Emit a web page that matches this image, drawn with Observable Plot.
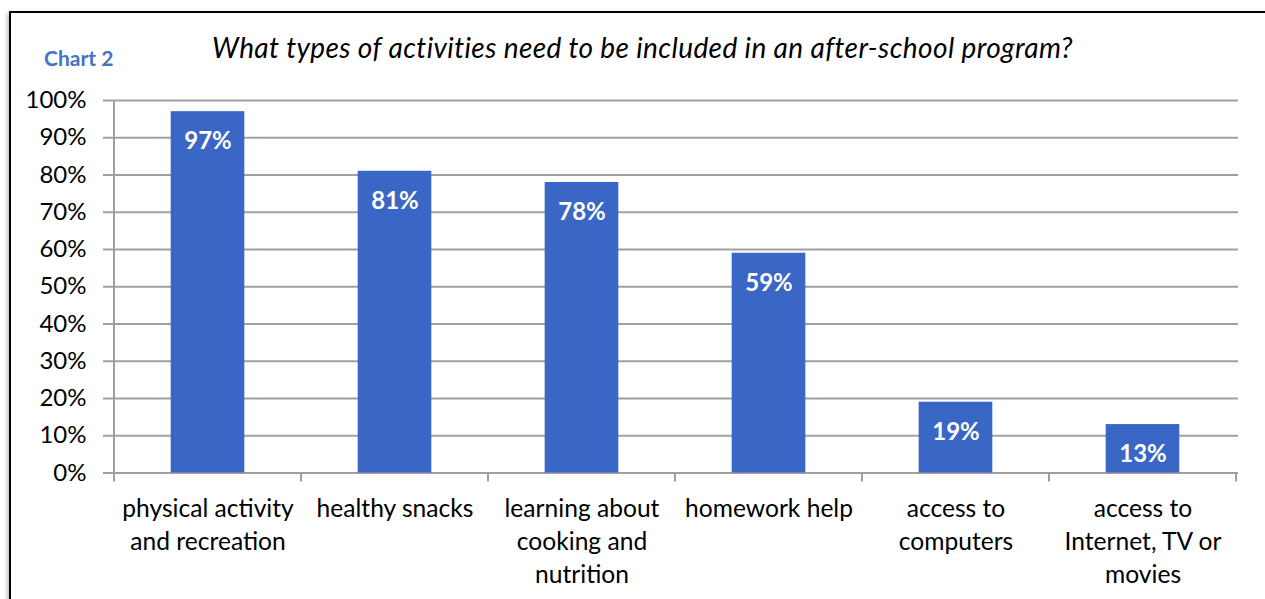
<!DOCTYPE html>
<html>
<head>
<meta charset="utf-8">
<script src="https://cdn.jsdelivr.net/npm/d3@7"></script>
<script src="https://cdn.jsdelivr.net/npm/@observablehq/plot@0.6"></script>
<style>
  html, body { margin: 0; padding: 0; background: #fff; }
  #page { position: relative; width: 1265px; height: 599px; overflow: hidden; font-family: Lato, "Open Sans", sans-serif; }
  #frame { position: absolute; left: 9px; top: 11px; width: 1400px; height: 800px; border-left: 2px solid #000; border-top: 2px solid #000; box-shadow: -2px 2px 4px rgba(0,0,0,0.25); }
  #header { position: absolute; left: 0; top: 0; width: 1265px; height: 60px; z-index: 2; }
  #tag { position: absolute; left: 44px; top: 47px; font-size: 21px; line-height: 21px; font-weight: bold; color: #4472c4; white-space: nowrap; }
  #title { position: absolute; left: 212px; top: 33px; font-size: 28px; line-height: 28px; letter-spacing: 0.4px; font-style: italic; color: #000; white-space: nowrap; }
  #chart { position: absolute; left: 0; top: 60px; z-index: 1; }
</style>
</head>
<body>
<div id="page">
  <div id="frame"></div>
  <div id="header">
    <div id="tag">Chart 2</div>
    <div id="title">What types of activities need to be included in an after-school program?</div>
  </div>
  <div id="chart"></div>
</div>
<script>
const categories = [
  "physical activity and recreation",
  "healthy snacks",
  "learning about cooking and nutrition",
  "homework help",
  "access to computers",
  "access to Internet, TV or movies"
];
const tickLabels = [
  "physical activity\nand recreation",
  "healthy snacks",
  "learning about\ncooking and\nnutrition",
  "homework help",
  "access to\ncomputers",
  "access to\nInternet, TV or\nmovies"
];
const values = [97, 81, 78, 59, 19, 13];
const yTicks = [0, 10, 20, 30, 40, 50, 60, 70, 80, 90, 100];

const data = categories.map((c, i) => ({category: c, value: values[i]}));

const W = 1265, H = 539;
const mL = 112, mR = 27, mT = 40, mB = 126.5;
const step = (W - mL - mR) / categories.length;
const barW = 74.3;
const inset = (step - barW) / 2;
const grid = "#a0a0a0";

function boundaryTicks(index, scales, values, dims) {
  const x = scales.x, y = scales.y;
  const bw = x.bandwidth();
  const xs = categories.map(c => x(c)).concat([x(categories[categories.length - 1]) + bw]);
  const y0 = y(0);
  const g = d3.create("svg:g");
  g.selectAll("line.t").data(xs).join("line")
    .attr("x1", d => d).attr("x2", d => d)
    .attr("y1", y0).attr("y2", y0 + 9)
    .attr("stroke", grid).attr("stroke-width", 2);
  g.append("line")
    .attr("x1", xs[0]).attr("x2", xs[0])
    .attr("y1", y(100)).attr("y2", y0)
    .attr("stroke", grid).attr("stroke-width", 2);
  return g.node();
}

const chart = Plot.plot({
  width: W, height: H,
  marginLeft: mL, marginRight: mR, marginTop: mT, marginBottom: mB,
  style: {fontFamily: "Lato, 'Open Sans', sans-serif", fontSize: "24px", color: "#000", background: "transparent"},
  x: {domain: categories, padding: 0},
  y: {domain: [0, 100]},
  marks: [
    Plot.ruleY(yTicks, {stroke: grid, strokeWidth: 2}),
    Plot.barY(data, {x: "category", y: "value", fill: "#3a67c5", insetLeft: inset, insetRight: inset}),
    Plot.text(data, {x: "category", y: "value", text: d => d.value + "%", dy: 30, fill: "#fff", fontWeight: "bold", fontSize: 24}),
    boundaryTicks,
    Plot.axisY({ticks: yTicks, tickFormat: d => d + "%", tickSize: 9, tickPadding: 17, stroke: grid, strokeWidth: 2, fill: "#000", fontSize: 24, label: null}),
    Plot.axisX({tickSize: 0, tickPadding: 20, tickFormat: d => tickLabels[categories.indexOf(d)], lineHeight: 1.354, fill: "#000", fontSize: 24.6, label: null})
  ]
});
document.getElementById("chart").appendChild(chart);
</script>
</body>
</html>
